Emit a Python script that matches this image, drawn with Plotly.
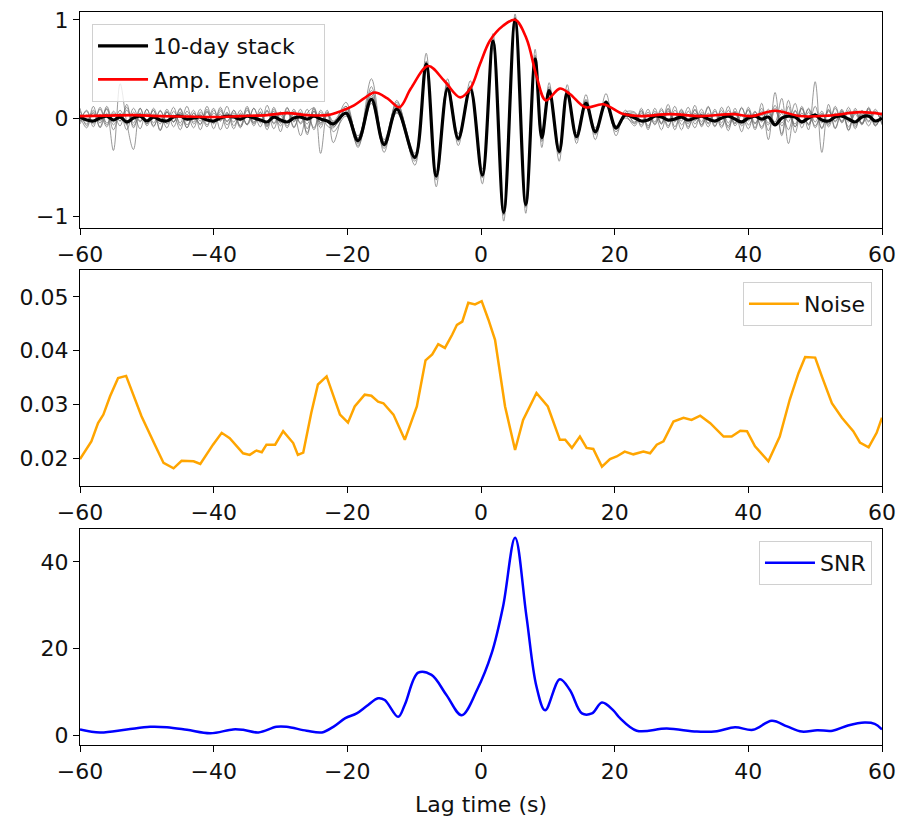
import plotly.graph_objects as go

# ---------------------------------------------------------------- time grid
# sample times (s): coda on both sides at 1 s, main arrival at its extrema
lag_left = list(range(-60, -22))
lag_mid = [-22.1, -20.2, -18.4, -16.4, -14.5, -12.6, -9.9, -8.2, -6.7, -5.0,
           -3.4, -1.6, 0.2, 1.8, 3.4, 5.1, 6.7, 8.1, 9.1, 10.2, 11.7, 12.9,
           14.3, 15.7, 17.1, 18.7, 20.2, 21.6]
lag_right = list(range(23, 61))
lag_t = lag_left + lag_mid + lag_right

# ---------------------------------------------------------------- 10-day stack
stack_left = [0.01, -0.02, -0.03, 0.00, 0.02, -0.02, 0.01, -0.04, 0.00, 0.02,
              -0.03, 0.01, -0.02, -0.03, 0.01, 0.02, -0.01, 0.00, 0.01, -0.02,
              -0.03, 0.00, 0.02, 0.01, -0.01, 0.02, 0.00, -0.02, -0.04, 0.01,
              -0.02, -0.04, 0.00, 0.01, -0.01, 0.02, -0.01, -0.03]
stack_mid = [-0.06, 0.05, -0.23, 0.19, -0.27, 0.09, -0.40, 0.55, -0.59, 0.30,
             -0.21, 0.30, -0.58, 0.78, -0.96, 1.00, -0.88, 0.60, -0.20, 0.28,
             -0.34, 0.26, -0.19, 0.15, -0.14, 0.16, -0.10, 0.03]
stack_right = [0.00, -0.03, -0.02, 0.02, 0.01, -0.02, -0.01, 0.01, -0.02, 0.00,
               0.02, -0.01, -0.03, 0.00, 0.02, -0.01, -0.04, 0.00, 0.02, -0.01,
               0.01, -0.07, 0.00, 0.02, 0.01, -0.04, 0.00, 0.03, -0.02, -0.03,
               0.01, 0.02, -0.01, -0.04, 0.01, 0.02, -0.03, 0.00]
stack = stack_left + stack_mid + stack_right

# ---------------------------------------------------------------- daily traces
day_1 = ([0.10, -0.08, 0.12, -0.10, 0.05, -0.33, 0.35, -0.05, -0.32, 0.10,
          -0.06, 0.08, -0.12, 0.06, -0.04, 0.09, -0.10, 0.05, -0.07, 0.12,
          -0.05, 0.04, -0.11, 0.08, -0.03, 0.10, -0.08, 0.06, -0.12, 0.09,
          -0.05, 0.11, -0.09, 0.04, -0.15, 0.07, -0.10, 0.05]
         + [-0.25, 0.12, -0.30, 0.32, -0.35, 0.18, -0.48, 0.66, -0.70, 0.40,
            -0.28, 0.38, -0.67, 0.86, -1.05, 1.06, -0.97, 0.70, -0.30, 0.36,
            -0.44, 0.34, -0.26, 0.24, -0.22, 0.25, -0.18, 0.08]
         + [-0.06, 0.08, -0.12, 0.10, -0.05, 0.14, -0.09, 0.06, -0.11, 0.09,
            -0.04, 0.12, -0.08, 0.05, -0.13, 0.10, -0.06, 0.08, -0.10, 0.15,
            -0.22, 0.26, -0.18, 0.12, -0.15, 0.10, -0.12, 0.37, -0.35, 0.14,
            -0.10, 0.08, -0.12, 0.10, -0.06, 0.09, -0.08, 0.05])
day_2 = ([0.04, -0.06, 0.08, -0.03, 0.10, -0.07, 0.05, -0.12, 0.06, -0.04,
          0.09, -0.08, 0.03, -0.10, 0.07, -0.05, 0.12, -0.06, 0.04, -0.09,
          0.08, -0.03, 0.06, -0.11, 0.05, -0.07, 0.10, -0.04, 0.08, -0.06,
          0.03, -0.10, 0.07, -0.05, 0.09, -0.12, 0.06, -0.08]
         + [-0.10, 0.10, -0.20, 0.24, -0.22, 0.14, -0.36, 0.50, -0.55, 0.34,
            -0.16, 0.26, -0.52, 0.72, -0.92, 0.96, -0.84, 0.56, -0.15, 0.32,
            -0.30, 0.22, -0.15, 0.19, -0.10, 0.12, -0.14, 0.06]
         + [0.06, -0.04, 0.09, -0.07, 0.05, -0.10, 0.08, -0.03, 0.11, -0.06,
            0.04, -0.09, 0.07, -0.05, 0.12, -0.08, 0.03, -0.11, 0.06, -0.04,
            0.09, -0.07, 0.05, -0.12, 0.08, -0.06, 0.10, -0.04, 0.07, -0.09,
            0.05, -0.03, 0.11, -0.07, 0.04, -0.08, 0.06, -0.05])
day_3 = ([-0.03, 0.07, -0.09, 0.11, -0.05, 0.03, -0.08, 0.14, -0.10, 0.05,
          -0.02, 0.08, -0.13, 0.06, -0.04, 0.10, -0.07, 0.02, -0.06, 0.09,
          -0.11, 0.07, -0.03, 0.05, -0.08, 0.12, -0.06, 0.04, -0.09, 0.07,
          -0.14, 0.10, -0.04, 0.06, -0.17, 0.11, -0.05, 0.08]
         + [-0.14, 0.02, -0.28, 0.15, -0.31, 0.06, -0.44, 0.58, -0.63, 0.27,
            -0.24, 0.33, -0.61, 0.80, -0.99, 1.03, -0.91, 0.64, -0.24, 0.25,
            -0.37, 0.29, -0.22, 0.13, -0.17, 0.18, -0.08, 0.00]
         + [-0.05, 0.10, -0.08, 0.04, -0.12, 0.07, -0.03, 0.09, -0.06, 0.13,
            -0.09, 0.05, -0.04, 0.08, -0.10, 0.06, -0.14, 0.11, -0.05, 0.03,
            -0.07, 0.10, -0.16, 0.18, -0.09, 0.05, -0.06, 0.12, -0.11, 0.07,
            -0.04, 0.09, -0.13, 0.06, -0.05, 0.10, -0.07, 0.04])
day_4 = ([0.07, -0.02, 0.05, -0.09, 0.12, -0.04, 0.08, -0.06, 0.03, -0.11,
          0.09, -0.05, 0.07, -0.03, 0.11, -0.08, 0.04, -0.10, 0.06, -0.02,
          0.10, -0.12, 0.05, -0.04, 0.08, -0.07, 0.03, -0.09, 0.13, -0.05,
          0.06, -0.08, 0.04, -0.18, 0.05, 0.10, -0.36, 0.05]
         + [-0.08, 0.16, -0.25, 0.40, -0.26, 0.11, -0.42, 0.52, -0.57, 0.36,
            -0.19, 0.28, -0.55, 0.75, -0.94, 0.99, -0.86, 0.58, -0.18, 0.30,
            -0.32, 0.27, -0.20, 0.16, -0.12, 0.14, -0.11, 0.04]
         + [0.03, -0.07, 0.06, -0.04, 0.10, -0.08, 0.05, -0.12, 0.07, -0.03,
            0.09, -0.06, 0.04, -0.10, 0.08, -0.05, 0.11, -0.07, 0.03, -0.09,
            0.06, -0.04, 0.20, -0.26, 0.07, -0.05, 0.09, -0.10, 0.05, -0.07,
            0.12, -0.04, 0.06, -0.11, 0.08, -0.03, 0.07, -0.06])
day_5 = ([-0.06, 0.03, -0.04, 0.09, -0.07, 0.05, -0.03, 0.08, -0.05, 0.10,
          -0.08, 0.04, -0.06, 0.09, -0.04, 0.06, -0.10, 0.05, -0.03, 0.07,
          -0.06, 0.11, -0.04, 0.08, -0.09, 0.03, -0.05, 0.10, -0.07, 0.04,
          -0.08, 0.06, -0.03, 0.09, -0.11, 0.07, -0.05, 0.03]
         + [-0.04, 0.08, -0.18, 0.22, -0.24, 0.05, -0.38, 0.53, -0.61, 0.28,
            -0.23, 0.31, -0.60, 0.81, -0.98, 1.01, -0.90, 0.62, -0.22, 0.26,
            -0.36, 0.24, -0.17, 0.17, -0.15, 0.15, -0.09, 0.02]
         + [-0.08, 0.05, -0.03, 0.07, -0.06, 0.10, -0.04, 0.08, -0.09, 0.05,
            -0.07, 0.11, -0.05, 0.03, -0.08, 0.06, -0.04, 0.09, -0.12, 0.07,
            -0.05, 0.13, -0.08, 0.04, -0.06, 0.10, -0.07, 0.05, -0.10, 0.08,
            -0.03, 0.06, -0.09, 0.04, -0.07, 0.11, -0.05, 0.02])
day_6 = ([0.02, -0.10, 0.06, -0.05, 0.09, -0.12, 0.04, -0.07, 0.10, -0.03,
          0.05, -0.09, 0.08, -0.06, 0.03, -0.12, 0.07, -0.04, 0.09, -0.07,
          0.05, -0.03, 0.12, -0.08, 0.04, -0.06, 0.10, -0.05, 0.07, -0.11,
          0.06, -0.04, 0.09, -0.06, 0.03, -0.10, 0.08, -0.04]
         + [-0.09, 0.04, -0.26, 0.20, -0.29, 0.12, -0.41, 0.57, -0.58, 0.31,
            -0.20, 0.29, -0.57, 0.77, -0.95, 0.98, -0.87, 0.59, -0.19, 0.27,
            -0.33, 0.25, -0.18, 0.14, -0.13, 0.17, -0.10, 0.03]
         + [0.05, -0.09, 0.04, -0.06, 0.08, -0.04, 0.12, -0.07, 0.03, -0.10,
            0.06, -0.05, 0.09, -0.08, 0.04, -0.06, 0.10, -0.03, 0.07, -0.11,
            0.05, -0.07, 0.09, -0.04, 0.15, -0.10, 0.06, -0.08, 0.04, -0.06,
            0.10, -0.05, 0.08, -0.09, 0.06, -0.04, 0.09, -0.07])
day_7 = ([-0.04, 0.08, -0.06, 0.04, -0.09, 0.07, -0.03, 0.11, -0.08, 0.05,
          -0.06, 0.10, -0.04, 0.07, -0.09, 0.05, -0.03, 0.08, -0.12, 0.06,
          -0.05, 0.09, -0.07, 0.03, -0.10, 0.08, -0.04, 0.06, -0.08, 0.11,
          -0.05, 0.07, -0.10, 0.04, -0.06, 0.09, -0.07, 0.06]
         + [-0.03, 0.12, -0.21, 0.28, -0.25, 0.16, -0.39, 0.54, -0.60, 0.32,
            -0.22, 0.31, -0.59, 0.79, -0.97, 1.02, -0.89, 0.61, -0.21, 0.29,
            -0.35, 0.26, -0.19, 0.18, -0.14, 0.16, -0.12, 0.05]
         + [-0.04, 0.07, -0.10, 0.05, -0.06, 0.09, -0.12, 0.06, -0.04, 0.08,
            -0.07, 0.03, -0.09, 0.11, -0.05, 0.07, -0.08, 0.04, -0.06, 0.10,
            -0.13, 0.08, -0.05, 0.06, -0.09, 0.12, -0.07, 0.04, -0.05, 0.09,
            -0.11, 0.07, -0.04, 0.08, -0.06, 0.05, -0.08, 0.06])
daily_traces = [day_1, day_2, day_3, day_4, day_5, day_6, day_7]

# ---------------------------------------------------------------- envelope
env_t = [-60, -56, -52, -48, -44, -40, -36, -32, -29, -26, -23, -21, -19,
         -17.5, -15.9, -14, -12.2, -10.5, -7.9, -5.5, -3.1, -1.6, -0.15, 1.35,
         3.3, 5.1, 6.8, 8.3, 9.7, 11.8, 13.3, 15.6, 18.3, 21.3, 24, 28.3, 33,
         37.7, 40.5, 44, 47.7, 52, 56.7, 60]
env_v = [0.02, 0.025, 0.03, 0.02, 0.015, 0.01, 0.02, 0.03, 0.05, 0.03, 0.03,
         0.07, 0.13, 0.20, 0.26, 0.20, 0.11, 0.30, 0.53, 0.38, 0.21, 0.30, 0.55,
         0.79, 0.94, 1.00, 0.81, 0.43, 0.18, 0.30, 0.245, 0.11, 0.14, 0.04,
         0.02, 0.04, 0.02, 0.04, 0.02, 0.075, 0.02, 0.025, 0.06, 0.04]

# ---------------------------------------------------------------- noise level
noise_t = [-60, -58.3, -57.3, -56.5, -55.5, -54.3, -53.1, -52.3, -50.8, -48.8,
           -47.5, -46.0, -44.8, -43.0, -42.0, -40.1, -38.8, -37.6, -35.6,
           -34.6, -33.6, -32.8, -32.1, -30.8, -29.6, -28.1, -27.4, -26.6,
           -25.4, -24.4, -23.1, -21.1, -19.9, -18.9, -17.4, -16.4, -15.4,
           -14.6, -13.1, -11.4, -9.6, -8.3, -7.3, -6.4, -5.4, -4.3, -3.6, -2.8,
           -1.9, -0.9, 0.1, 1.1, 2.1, 3.6, 5.1, 6.3, 8.3, 10.0, 11.8, 12.6,
           13.6, 14.8, 15.8, 16.8, 18.1, 19.3, 20.3, 21.5, 22.8, 24.3, 25.3,
           26.3, 27.3, 28.8, 30.3, 31.5, 32.8, 34.3, 36.3, 37.5, 38.8, 39.8,
           41.0, 43.0, 44.7, 46.2, 47.5, 48.5, 50.0, 51.0, 52.5, 54.0, 55.7,
           56.7, 58.0, 59.2, 60]
noise_v = [0.0198, 0.0231, 0.0265, 0.0281, 0.0315, 0.0349, 0.0353, 0.0327,
           0.0278, 0.0225, 0.0191, 0.0181, 0.0195, 0.0194, 0.0189, 0.0225,
           0.0247, 0.0237, 0.0209, 0.0206, 0.0214, 0.0211, 0.0225, 0.0225,
           0.0250, 0.0228, 0.0206, 0.0210, 0.0284, 0.0337, 0.0352, 0.0281,
           0.0266, 0.0296, 0.0318, 0.0316, 0.0305, 0.0302, 0.0281, 0.0234,
           0.0296, 0.0382, 0.0393, 0.0412, 0.0405, 0.0430, 0.0448, 0.0454,
           0.0489, 0.0486, 0.0492, 0.0458, 0.0420, 0.0296, 0.0215, 0.0271,
           0.0321, 0.0296, 0.0234, 0.0234, 0.0219, 0.0240, 0.0219, 0.0217,
           0.0184, 0.0198, 0.0203, 0.0212, 0.0207, 0.0212, 0.0209, 0.0225,
           0.0231, 0.0268, 0.0275, 0.0271, 0.0279, 0.0265, 0.0240, 0.0240,
           0.0251, 0.0250, 0.0222, 0.0194, 0.0240, 0.0309, 0.0358, 0.0388,
           0.0387, 0.0352, 0.0302, 0.0275, 0.0250, 0.0229, 0.0220, 0.0247,
           0.0275]

# ---------------------------------------------------------------- SNR
snr_t = [-60, -57, -53, -49.5, -47, -44, -40.5, -37.1, -35.6, -33.3, -30.6,
         -29.1, -26.1, -23.8, -22.1, -20.3, -18.6, -17.1, -15.4, -14.4, -12.4,
         -11.4, -9.4, -7.4, -5.2, -2.9, -0.6, 1.6, 3.3, 5.1, 6.8, 8.3, 9.6,
         11.8, 13.3, 15.1, 16.6, 18.1, 19.8, 20.8, 23.3, 27.8, 32.3, 35.3,
         38.0, 40.7, 43.5, 45.8, 48.0, 50.3, 52.6, 54.9, 57.4, 58.9, 60]
snr_v = [1.3, 0.6, 1.3, 1.9, 1.8, 1.2, 0.4, 1.3, 1.2, 0.6, 1.9, 1.9, 1.0, 0.6,
         1.9, 3.9, 5.0, 6.7, 8.5, 8.1, 4.2, 7.0, 14.4, 13.9, 9.3, 4.6, 10.4,
         18.9, 29.7, 45.6, 27.4, 11.2, 5.7, 12.9, 10.4, 5.0, 5.0, 7.5, 5.7,
         3.9, 1.0, 1.5, 0.8, 0.9, 1.8, 1.2, 3.3, 2.0, 0.8, 1.1, 1.0, 2.2, 2.9,
         2.6, 1.3]

x_ticks = [-60, -40, -20, 0, 20, 40, 60]

# ---------------------------------------------------------------- figure
FONT = "DejaVu Sans"
FS = 22
TXT = "#111111"
fig = go.Figure()

for tr in daily_traces:
    fig.add_trace(go.Scatter(
        x=lag_t, y=tr, mode="lines", showlegend=False, hoverinfo="skip",
        line=dict(color="rgba(110,110,110,0.7)", width=1, shape="spline"),
        xaxis="x", yaxis="y"))

fig.add_trace(go.Scatter(
    x=lag_t, y=stack, mode="lines", name="10-day stack",
    line=dict(color="black", width=3.2, shape="spline"),
    xaxis="x", yaxis="y", legend="legend", legendgroup="a"))
fig.add_trace(go.Scatter(
    x=env_t, y=env_v, mode="lines", name="Amp. Envelope",
    line=dict(color="red", width=2.6, shape="spline"),
    xaxis="x", yaxis="y", legend="legend", legendgroup="b"))

fig.add_trace(go.Scatter(
    x=noise_t, y=noise_v, mode="lines", name="Noise",
    line=dict(color="#FFA500", width=2.5),
    xaxis="x2", yaxis="y2", legend="legend2"))

fig.add_trace(go.Scatter(
    x=snr_t, y=snr_v, mode="lines", name="SNR",
    line=dict(color="#0000FF", width=2.5, shape="spline"),
    xaxis="x3", yaxis="y3", legend="legend3"))

axis_style = dict(showline=True, mirror=True, linecolor="black", linewidth=1.2,
                  ticks="outside", ticklen=6, tickwidth=1.2, tickcolor="black",
                  showgrid=False, zeroline=False, automargin=False,
                  tickfont=dict(family=FONT, size=FS, color=TXT))

legend_style = dict(bgcolor="rgba(255,255,255,0.8)", bordercolor="#d0d0d0",
                    borderwidth=1, itemwidth=50,
                    font=dict(family=FONT, size=FS, color=TXT))

fig.update_layout(
    width=900, height=820,
    margin=dict(l=80, r=18, t=12, b=75),
    paper_bgcolor="white", plot_bgcolor="white",
    font=dict(family=FONT, size=FS, color=TXT),
    xaxis=dict(domain=[0, 1], anchor="y", range=[-60, 60], tickvals=x_ticks,
               **axis_style),
    yaxis=dict(domain=[0.7053, 1], anchor="x", range=[-1.12, 1.08],
               tickvals=[-1, 0, 1], **axis_style),
    xaxis2=dict(domain=[0, 1], anchor="y2", range=[-60, 60], tickvals=x_ticks,
                **axis_style),
    yaxis2=dict(domain=[0.3533, 0.648], anchor="x2", range=[0.0148, 0.055],
                tickvals=[0.02, 0.03, 0.04, 0.05], tickformat=".2f",
                **axis_style),
    xaxis3=dict(domain=[0, 1], anchor="y3", range=[-60, 60], tickvals=x_ticks,
                title=dict(text="Lag time (s)", standoff=14,
                           font=dict(family=FONT, size=FS, color=TXT)),
                **axis_style),
    yaxis3=dict(domain=[0, 0.2947], anchor="x3", range=[-2.3, 47.6],
                tickvals=[0, 20, 40], **axis_style),
    legend=dict(x=0.015, y=0.9836, xanchor="left", yanchor="top",
                tracegroupgap=2, **legend_style),
    legend2=dict(x=0.9875, y=0.6317, xanchor="right", yanchor="top",
                 **legend_style),
    legend3=dict(x=0.9875, y=0.2783, xanchor="right", yanchor="top",
                 **legend_style),
)

fig.write_html("out.html")
